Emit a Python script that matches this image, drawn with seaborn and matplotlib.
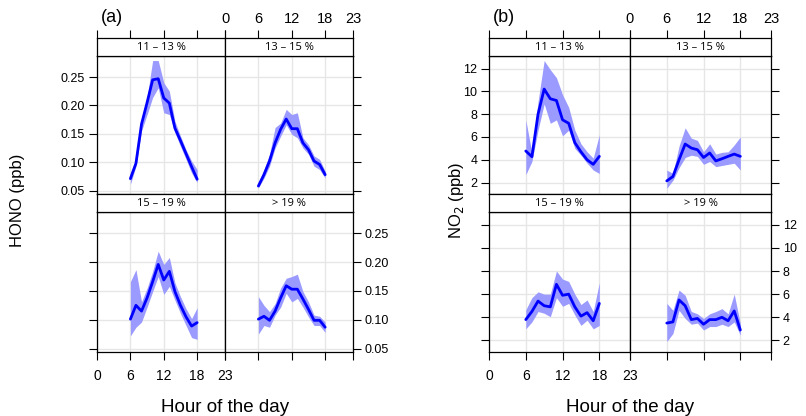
import numpy as np
import pandas as pd
import matplotlib
matplotlib.use('Agg')
import matplotlib.pyplot as plt
import seaborn as sns

# hourly means and band limits
hours = list(range(6, 19))
bins = ['11 – 13 %', '13 – 15 %', '15 – 19 %', '> 19 %']

hono_1113 = [0.071, 0.098, 0.167, 0.205, 0.245, 0.247, 0.213, 0.204, 0.160, 0.138, 0.115, 0.092, 0.070]
hono_1113_hi = [0.081, 0.103, 0.175, 0.214, 0.279, 0.279, 0.240, 0.225, 0.172, 0.146, 0.122, 0.102, 0.087]
hono_1113_lo = [0.061, 0.093, 0.155, 0.184, 0.214, 0.231, 0.187, 0.184, 0.152, 0.128, 0.105, 0.081, 0.064]

hono_1315 = [0.058, 0.078, 0.102, 0.134, 0.158, 0.176, 0.159, 0.159, 0.134, 0.122, 0.102, 0.096, 0.078]
hono_1315_hi = [0.064, 0.087, 0.114, 0.161, 0.169, 0.193, 0.184, 0.187, 0.143, 0.131, 0.111, 0.105, 0.084]
hono_1315_lo = [0.055, 0.072, 0.093, 0.125, 0.146, 0.166, 0.149, 0.143, 0.125, 0.114, 0.093, 0.087, 0.072]

hono_1519 = [0.101, 0.125, 0.115, 0.138, 0.166, 0.196, 0.169, 0.184, 0.149, 0.125, 0.105, 0.089, 0.095]
hono_1519_hi = [0.166, 0.187, 0.131, 0.155, 0.184, 0.219, 0.196, 0.208, 0.164, 0.140, 0.119, 0.102, 0.121]
hono_1519_lo = [0.072, 0.087, 0.096, 0.122, 0.149, 0.175, 0.144, 0.158, 0.134, 0.111, 0.090, 0.069, 0.066]

hono_19 = [0.101, 0.106, 0.099, 0.115, 0.138, 0.159, 0.153, 0.153, 0.136, 0.118, 0.099, 0.099, 0.087]
hono_19_hi = [0.140, 0.125, 0.114, 0.128, 0.155, 0.172, 0.175, 0.179, 0.149, 0.131, 0.108, 0.106, 0.096]
hono_19_lo = [0.075, 0.090, 0.087, 0.108, 0.122, 0.146, 0.131, 0.137, 0.122, 0.105, 0.090, 0.090, 0.078]

no2_1113 = [4.77, 4.27, 8.0, 10.2, 9.35, 9.2, 7.5, 7.2, 5.5, 4.7, 4.0, 3.6, 4.3]
no2_1113_hi = [7.5, 4.6, 9.1, 12.7, 11.9, 11.2, 9.7, 8.6, 6.6, 5.4, 4.7, 4.15, 6.2]
no2_1113_lo = [2.7, 3.85, 6.6, 8.9, 7.2, 7.5, 6.1, 6.6, 5.0, 4.4, 3.7, 3.1, 2.8]

no2_1315 = [2.15, 2.53, 4.0, 5.38, 5.03, 4.88, 4.2, 4.6, 3.9, 4.09, 4.3, 4.5, 4.3]
no2_1315_hi = [3.1, 2.8, 5.2, 6.8, 5.9, 5.7, 4.7, 5.4, 4.5, 4.65, 4.7, 5.3, 6.0]
no2_1315_lo = [1.5, 2.2, 3.3, 4.2, 4.4, 4.3, 3.6, 3.85, 3.4, 3.5, 3.6, 3.7, 3.1]

no2_1519 = [3.8, 4.5, 5.4, 5.0, 4.9, 6.85, 5.9, 6.0, 4.9, 4.1, 4.4, 3.7, 5.2]
no2_1519_hi = [4.65, 5.7, 6.2, 6.0, 6.0, 8.0, 7.3, 7.1, 6.0, 5.1, 5.5, 4.5, 7.0]
no2_1519_lo = [3.0, 3.6, 4.5, 4.35, 4.05, 5.7, 4.95, 5.2, 4.2, 3.3, 3.75, 3.0, 3.3]

no2_19 = [3.5, 3.6, 5.5, 5.0, 3.8, 3.9, 3.4, 3.8, 3.8, 4.0, 3.7, 4.55, 2.9]
no2_19_hi = [5.2, 4.6, 6.35, 5.9, 4.5, 4.3, 3.9, 4.3, 4.5, 4.75, 4.3, 6.0, 3.45]
no2_19_lo = [1.9, 2.6, 4.6, 3.9, 3.4, 3.5, 2.9, 3.2, 3.2, 3.4, 3.2, 3.6, 2.45]

hono_sets = [(hono_1113, hono_1113_lo, hono_1113_hi), (hono_1315, hono_1315_lo, hono_1315_hi),
             (hono_1519, hono_1519_lo, hono_1519_hi), (hono_19, hono_19_lo, hono_19_hi)]
no2_sets = [(no2_1113, no2_1113_lo, no2_1113_hi), (no2_1315, no2_1315_lo, no2_1315_hi),
            (no2_1519, no2_1519_lo, no2_1519_hi), (no2_19, no2_19_lo, no2_19_hi)]

sns.set_style('white')
plt.rcParams['font.family'] = ['Liberation Sans', 'DejaVu Sans']
plt.rcParams['text.color'] = 'black'
plt.rcParams['xtick.color'] = 'black'
plt.rcParams['ytick.color'] = 'black'

W, H = 806, 416
fig = plt.figure(figsize=(W / 100, H / 100), dpi=100)


def rect(x0, y0, x1, y1):
    return [x0 / W, 1 - y1 / H, (x1 - x0) / W, (y1 - y0) / H]


xt = [0, 6, 12, 18, 23]
panels = [
    dict(x=(97, 225, 353), sets=hono_sets, ylim=(0.044, 0.287),
         yt=[0.05, 0.10, 0.15, 0.20, 0.25], fmt='{:.2f}', tag='(a)',
         ylab='HONO (ppb)', ylab_x=18),
    dict(x=(489, 630, 771), sets=no2_sets, ylim=(1.0, 13.1),
         yt=[2, 4, 6, 8, 10, 12], fmt='{:d}', tag='(b)',
         ylab='NO$_2$ (ppb)', ylab_x=457),
]
rows = [(38, 56, 194), (194, 212, 352)]  # strip top, data top, data bottom

for p in panels:
    xs = p['x']
    for i in range(4):
        r, c = divmod(i, 2)
        x0, x1 = xs[c], xs[c + 1]
        st, dt, db = rows[r]
        mean, lo, hi = p['sets'][i]

        ax = fig.add_axes(rect(x0, dt, x1, db))
        ax.set_axisbelow(True)
        ax.grid(True, color='#e6e6e6', lw=1)
        ax.fill_between(hours, lo, hi, color='#9a9aff', lw=0, zorder=2)
        sns.lineplot(x=hours, y=mean, ax=ax, color='#0000ff', lw=2, zorder=3)
        ax.set_xlim(0, 23)
        ax.set_ylim(*p['ylim'])
        ax.set_xticks(xt)
        ax.set_yticks(p['yt'])
        ax.set_xlabel('')
        ax.set_ylabel('')
        for s in ax.spines.values():
            s.set_color('black')
            s.set_linewidth(0.9)
        ax.tick_params(axis='y', direction='out', length=6, width=0.8,
                       labelsize=9, pad=2.5)
        ax.tick_params(axis='x', direction='out', length=6, width=0.8,
                       labelsize=10, pad=6)
        ax.tick_params(axis='x', bottom=(r == 1), top=False,
                       labelbottom=(r == 1 and c == 0), labeltop=False)
        ax.tick_params(axis='y', left=(c == 0), right=(c == 1),
                       labelleft=(c == 0 and r == 0), labelright=(c == 1 and r == 1))
        ax.set_xticklabels([str(v) for v in xt])
        ax.set_yticklabels([p['fmt'].format(v) for v in p['yt']])

        sa = fig.add_axes(rect(x0, st, x1, dt))
        sa.set_xlim(0, 23)
        sa.set_ylim(0, 1)
        sa.set_yticks([])
        sa.set_xticks(xt)
        sa.set_xticklabels([str(v) for v in xt])
        for s in sa.spines.values():
            s.set_color('black')
            s.set_linewidth(0.9)
        sa.tick_params(axis='x', direction='out', length=6, width=0.8,
                       labelsize=10.5, bottom=False, labelbottom=False,
                       top=(r == 0), labeltop=(r == 0 and c == 1), pad=2.5)
        sa.text(11.5, 0.5, bins[i], ha='center', va='center', fontsize=8,
                family=['Open Sans', 'DejaVu Sans'])

    fig.text((xs[0] + 4) / W, 1 - 18 / H, p['tag'], fontsize=13, ha='left', va='center')
    fig.text(p['ylab_x'] / W, 1 - 200 / H, p['ylab'], rotation=90, fontsize=12,
             ha='center', va='center')
    fig.text(xs[1] / W, 1 - 407 / H, 'Hour of the day', fontsize=13.5,
             ha='center', va='center')

fig.savefig('out.png', dpi=100)
